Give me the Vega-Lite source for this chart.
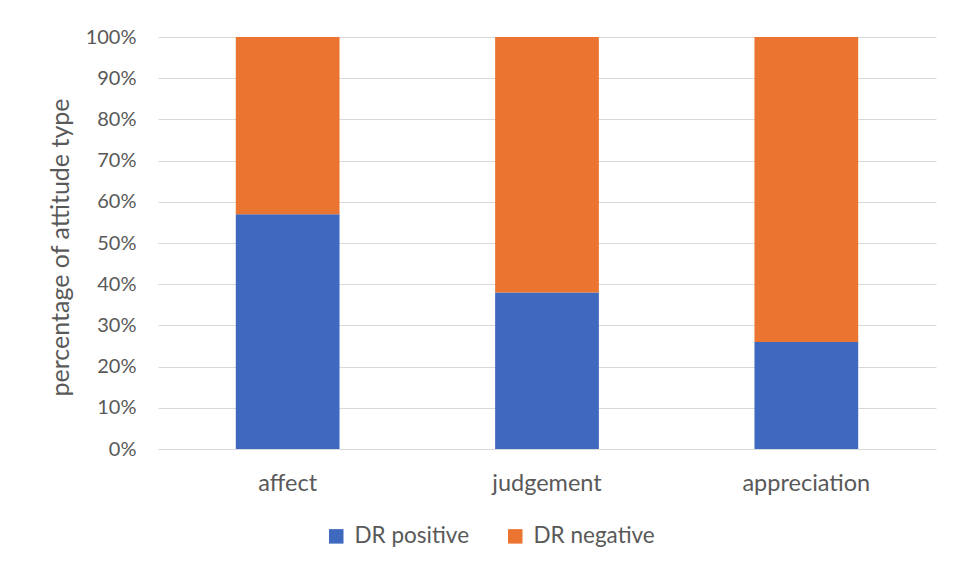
{
  "$schema": "https://vega.github.io/schema/vega-lite/v6.json",
  "width": 778,
  "height": 412,
  "autosize": {"type": "none"},
  "padding": {"left": 158, "top": 37, "right": 20, "bottom": 124},
  "background": "white",
  "data": {
    "values": [
      {"type": "affect", "series": "DR positive", "ord": 1, "share": 0.57},
      {"type": "affect", "series": "DR negative", "ord": 2, "share": 0.43},
      {"type": "judgement", "series": "DR positive", "ord": 1, "share": 0.38},
      {"type": "judgement", "series": "DR negative", "ord": 2, "share": 0.62},
      {"type": "appreciation", "series": "DR positive", "ord": 1, "share": 0.26},
      {"type": "appreciation", "series": "DR negative", "ord": 2, "share": 0.74}
    ]
  },
  "mark": {"type": "bar"},
  "encoding": {
    "x": {
      "field": "type",
      "type": "nominal",
      "sort": ["affect", "judgement", "appreciation"],
      "scale": {"paddingInner": 0.6, "paddingOuter": 0.3},
      "axis": {
        "title": null,
        "labelAngle": 0,
        "labelPadding": 22,
        "labelFontSize": 23.5,
        "labelColor": "#595959",
        "domain": false,
        "ticks": false,
        "grid": false
      }
    },
    "y": {
      "field": "share",
      "type": "quantitative",
      "stack": "zero",
      "scale": {"domain": [0, 1], "nice": false},
      "axis": {
        "title": "percentage of attitude type",
        "format": ".0%",
        "values": [0, 0.1, 0.2, 0.3, 0.4, 0.5, 0.6, 0.7, 0.8, 0.9, 1],
        "labelPadding": 22,
        "labelFontSize": 20,
        "labelColor": "#595959",
        "titleFontSize": 25,
        "titleFontWeight": "normal",
        "titleColor": "#595959",
        "titleX": -98,
        "titleY": 210,
        "titleAngle": -90,
        "titleAlign": "center",
        "titleBaseline": "middle",
        "domain": false,
        "ticks": false,
        "grid": true,
        "gridColor": "#d9d9d9",
        "gridWidth": 1
      }
    },
    "color": {
      "field": "series",
      "type": "nominal",
      "scale": {"domain": ["DR positive", "DR negative"], "range": ["#3F68BF", "#EA7430"]},
      "legend": {
        "title": null,
        "orient": "none",
        "direction": "horizontal",
        "legendX": 167,
        "legendY": 488,
        "symbolType": "square",
        "symbolSize": 210,
        "symbolStrokeWidth": 0,
        "symbolOpacity": 1,
        "labelFontSize": 22.5,
        "labelColor": "#595959",
        "labelOffset": 7,
        "columnPadding": 34
      }
    },
    "order": {"field": "ord", "type": "quantitative"}
  },
  "config": {
    "font": "Lato",
    "view": {"stroke": null}
  }
}
